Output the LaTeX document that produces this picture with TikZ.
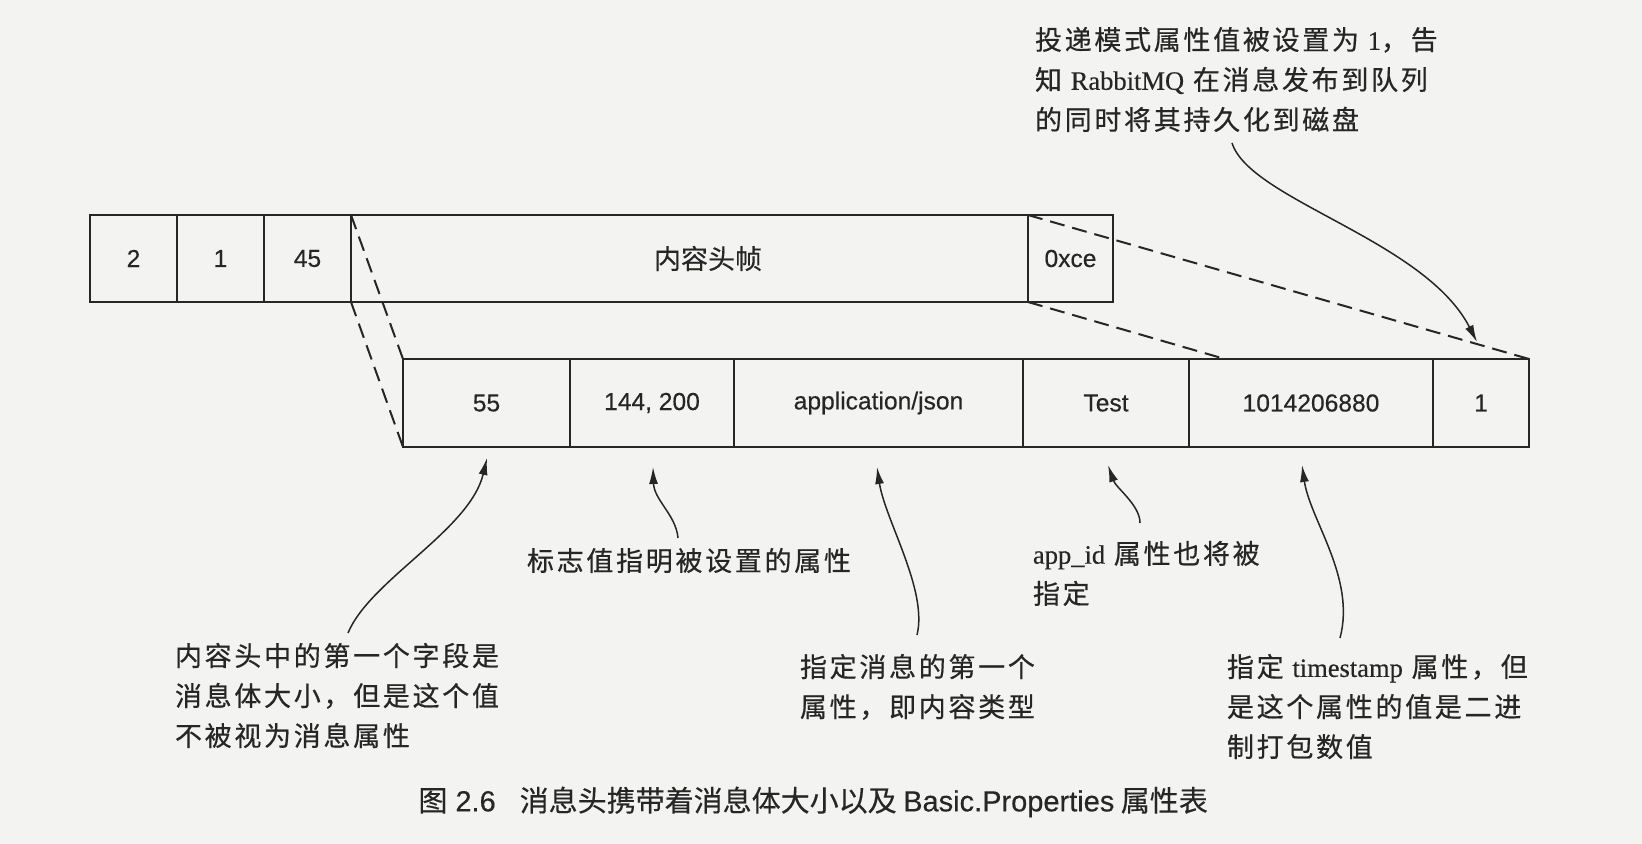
\documentclass[tikz,border=0pt]{standalone}
\usepackage{fontspec}
\setmainfont{Liberation Serif}
\newfontfamily\cjksans[FakeBold=0.3]{Noto Sans CJK SC}
\newfontfamily\cjkspaced[LetterSpace=10,FakeBold=0.5]{Noto Sans CJK SC}
\newfontfamily\helv[FakeBold=0.4]{Liberation Sans}
\newfontfamily\latinserif[FakeBold=0.4]{Liberation Serif}
\newcommand\latw[1]{{\latinserif\fontsize{13.25pt}{20pt}\selectfont #1}}
\usetikzlibrary{arrows.meta,calc}
\definecolor{paper}{RGB}{243,243,241}
\definecolor{ink}{RGB}{38,38,38}

\begin{document}
\begin{tikzpicture}[x=0.5pt,y=-0.5pt,
  cell/.style={draw=ink, line width=1pt, inner sep=0pt, outer sep=0pt, text=ink,
    font=\helv\fontsize{12.3pt}{14pt}\selectfont},
  topcell/.style={cell, minimum height=43.5pt},
  botcell/.style={cell, minimum height=44pt},
  zoomline/.style={draw=ink, line width=1pt, dash pattern=on 7.5pt off 4pt},
  note/.style={anchor=north west, inner sep=0pt, outer sep=0pt, align=left, text=ink,
    font=\cjkspaced\fontsize{13.5pt}{20pt}\selectfont},
  callout/.style={draw=ink, line width=0.75pt, -{Latex[length=8.5pt,width=4.5pt]}},
]
% page
\fill[paper] (0,0) rectangle (1642,844);
\useasboundingbox (0,0) rectangle (1642,844);

% frame: type, channel, size, payload, end marker
\node[topcell, minimum width=43.5pt] (t2) at (133.5,258.5) {2};
\node[topcell, minimum width=43.5pt] (t1) at (220.5,258.5) {1};
\node[topcell, minimum width=43.5pt] (t45) at (307.5,258.5) {45};
\node[topcell, minimum width=338.5pt,
  label={[text=ink, font=\cjksans\fontsize{13.5pt}{16pt}\selectfont, xshift=9.25pt]center:内容头帧}]
  (thdr) at (689.5,258.5) {};
\node[topcell, minimum width=42.5pt] (txce) at (1070.5,258.5) {0xce};

% content header payload
\node[botcell, minimum width=83.5pt] (b55) at (486.5,403) {55};
\node[botcell, minimum width=82pt] (bflags) at (652,403) {144, 200};
\node[botcell, minimum width=144.5pt] (btype) at (878.5,403) {application/json};
\node[botcell, minimum width=83pt] (bapp) at (1106,403) {Test};
\node[botcell, minimum width=122pt] (bts) at (1311,403) {1014206880};
\node[botcell, minimum width=48pt] (bmode) at (1481,403) {1};

% projection of the payload
\draw[zoomline] (thdr.north west) -- (b55.north west);
\draw[zoomline] (thdr.south west) -- (b55.south west);
\draw[zoomline] (txce.north west) -- (bmode.north east);
\draw[zoomline] (txce.south west) -- ($(txce.south west)!0.393!(bmode.south east)$);

% annotations
\node[note] (nmode) at (1035,27)
  {投递模式属性值被设置为 \latw{1}，告\\知 \latw{RabbitMQ} 在消息发布到队列\\的同时将其持久化到磁盘};
\node[note] (nflags) at (527,548) {标志值指明被设置的属性};
\node[note] (nsize) at (175,643)
  {内容头中的第一个字段是\\消息体大小，但是这个值\\不被视为消息属性};
\node[note] (ntype) at (800,654) {指定消息的第一个\\属性，即内容类型};
\node[note] (napp) at (1033,541) {\latw{app\_id} 属性也将被\\指定};
\node[note] (nts) at (1227,654)
  {指定 \latw{timestamp} 属性，但\\是这个属性的值是二进\\制打包数值};

% callout starts
\coordinate (smode) at (1232,143);
\coordinate (sflags) at (678,538);
\coordinate (ssize) at (348,633);
\coordinate (stype) at (917,635);
\coordinate (sapp) at (1140,523);
\coordinate (sts) at (1340,638);

\draw[callout] (smode) .. controls (1250,200) and (1425,240) .. ([shift={(-4,-17)}]bmode.north);
\draw[callout] (ssize) .. controls (370,580) and (470,530) .. ([shift={(0.5,11)}]b55.south);
\draw[callout] (sflags) .. controls (676,515) and (654,500) .. ([shift={(1,20)}]bflags.south);
\draw[callout] (stype) .. controls (928,590) and (885,520) .. ([shift={(-1.5,20)}]btype.south);
\draw[callout] (sapp) .. controls (1140,505) and (1116,488) .. ([shift={(2,18)}]bapp.south);
\draw[callout] (sts) .. controls (1356,578) and (1310,520) .. ([shift={(-9,18)}]bts.south);

% caption
\node[anchor=west, inner sep=0pt, text=ink,
  font=\cjksans\fontsize{14.5pt}{16pt}\selectfont] (cap) at (418,802)
  {图\hspace{4pt}{\helv 2.6}\hspace{12pt}消息头携带着消息体大小以及 {\helv Basic.Properties} 属性表};
\end{tikzpicture}
\end{document}
